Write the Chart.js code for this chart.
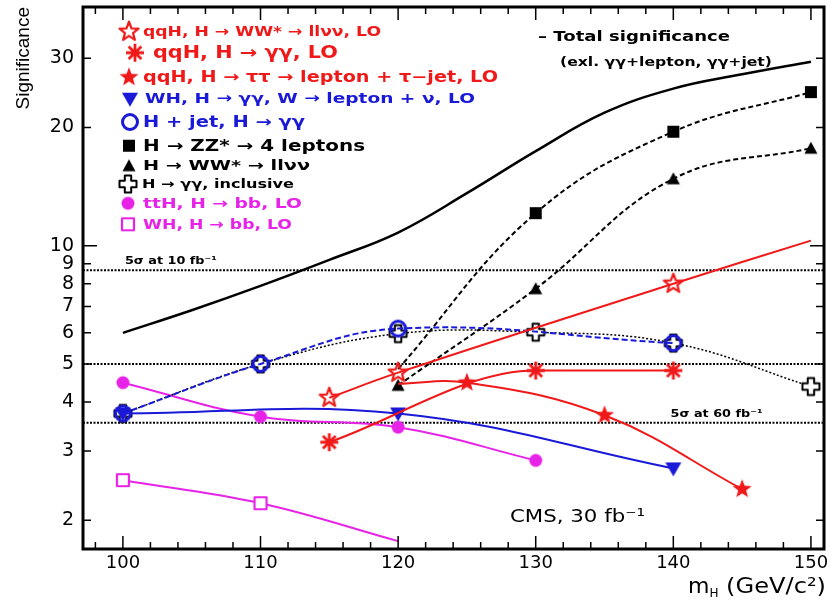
<!DOCTYPE html>
<html>
<head>
<meta charset="utf-8">
<script src="https://cdn.jsdelivr.net/npm/chart.js@4.4.1/dist/chart.umd.min.js"></script>
<style>
  html, body { margin: 0; padding: 0; background: #fff; }
</style>
</head>
<body>
<canvas id="significanceCanvas" width="831" height="602"></canvas>
<script>
// ---- donnees (m_H en GeV/c2, significance) ----
const masseTotal = [100, 105, 110, 115, 120, 125, 130, 135, 140, 145, 150]
const signifTotal = [6.0, 6.85, 7.9, 9.2, 10.8, 13.6, 17.4, 21.8, 25.1, 27.3, 29.4]

const masseZZ = [120, 130, 140, 150]
const signifZZ = [4.85, 12.1, 19.5, 24.6]

const masseWW = [120, 130, 140, 150]
const signifWW = [4.41, 7.77, 14.8, 17.7]

const masseGGincl = [100, 110, 120, 130, 140, 150]
const signifGGincl = [3.74, 5.0, 5.97, 6.02, 5.65, 4.38]

const masseHjet = [100, 110, 120, 140]
const signifHjet = [3.74, 5.0, 6.15, 5.65]

const masseWHgg = [100, 120, 140]
const signifWHgg = [3.74, 3.74, 2.71]

const masseQqhWW = [115, 120, 140, 150]
const signifQqhWW = [4.1, 4.75, 8.0, 10.3]

const masseQqhGG = [115, 130, 140]
const signifQqhGG = [3.16, 4.81, 4.81]

const masseQqhTT = [120, 125, 135, 145]
const signifQqhTT = [4.45, 4.48, 3.70, 2.40]

const masseTTH = [100, 110, 120, 130]
const signifTTH = [4.48, 3.67, 3.45, 2.84]

const masseWHbb = [100, 110, 120]
const signifWHbb = [2.53, 2.21, 1.77]

// seuils 5 sigma (10 fb-1, 30 fb-1, 60 fb-1)
const seuils = [8.66, 5.0, 3.54]

const graduationsX = [100, 110, 120, 130, 140, 150]
const graduationsY = [2, 3, 4, 5, 6, 7, 8, 9, 10, 20, 30]

const libelles = [
    "qqH, H \u2192 WW* \u2192 ll\u03bd\u03bd, LO",
    "qqH, H \u2192 \u03b3\u03b3, LO",
    "qqH, H \u2192 \u03c4\u03c4 \u2192 lepton + \u03c4\u2212jet, LO",
    "WH, H \u2192 \u03b3\u03b3, W \u2192 lepton + \u03bd, LO",
    "H + jet, H \u2192 \u03b3\u03b3",
    "H \u2192 ZZ* \u2192 4 leptons",
    "H \u2192 WW* \u2192 ll\u03bd\u03bd",
    "H \u2192 \u03b3\u03b3, inclusive",
    "ttH, H \u2192 bb, LO",
    "WH, H \u2192 bb, LO"
]

// ---- styles ----
const ROUGE = "rgb(240,25,25)"
const BLEU = "rgb(25,25,215)"
const NOIR = "#000"
const MAGENTA = "rgb(232,35,232)"
const xMin = 97.1, xMax = 150.95
const yMin = 1.69, yMax = 40.5

// petit canvas pour chaque marqueur (facon ROOT)
function marqueur(forme, couleur) {
    const c = document.createElement("canvas")
    const t = 24
    c.width = t; c.height = t
    const g = c.getContext("2d")
    g.translate(t / 2, t / 2)
    g.strokeStyle = couleur
    g.fillStyle = couleur
    g.lineWidth = 2.2
    g.lineJoin = "round"
    if (forme === "etoile" || forme === "etoileVide") {
        g.beginPath()
        for (let i = 0; i < 10; i++) {
            const r = i % 2 ? 4.2 : 10
            const a = -Math.PI / 2 + i * Math.PI / 5
            g.lineTo(r * Math.cos(a), r * Math.sin(a))
        }
        g.closePath()
        if (forme === "etoile") g.fill(); else g.stroke()
    } else if (forme === "asterisque") {
        g.lineWidth = 2.8
        g.beginPath()
        for (let i = 0; i < 4; i++) {
            const a = i * Math.PI / 4
            g.moveTo(-9 * Math.cos(a), -9 * Math.sin(a))
            g.lineTo(9 * Math.cos(a), 9 * Math.sin(a))
        }
        g.stroke()
    } else if (forme === "triangleBas") {
        g.beginPath(); g.moveTo(-8, -6); g.lineTo(8, -6); g.lineTo(0, 8); g.closePath(); g.fill()
    } else if (forme === "triangle") {
        g.beginPath(); g.moveTo(-6.5, 5.5); g.lineTo(6.5, 5.5); g.lineTo(0, -6.5); g.closePath(); g.fill()
    } else if (forme === "cercleVide") {
        g.lineWidth = 3
        g.beginPath(); g.arc(0, 0, 7.5, 0, 2 * Math.PI); g.stroke()
    } else if (forme === "cercle") {
        g.beginPath(); g.arc(0, 0, 6.5, 0, 2 * Math.PI); g.fill()
    } else if (forme === "carre") {
        g.fillRect(-6, -6, 12, 12)
    } else if (forme === "carreVide") {
        g.lineWidth = 2.2
        g.fillStyle = "#fff"
        g.fillRect(-6, -6, 12, 12)
        g.strokeRect(-6, -6, 12, 12)
    } else if (forme === "croixVide") {
        const a = 3.2, b = 8.5
        g.lineWidth = 2
        g.beginPath()
        g.moveTo(-a, -b); g.lineTo(a, -b); g.lineTo(a, -a); g.lineTo(b, -a); g.lineTo(b, a); g.lineTo(a, a)
        g.lineTo(a, b); g.lineTo(-a, b); g.lineTo(-a, a); g.lineTo(-b, a); g.lineTo(-b, -a); g.lineTo(-a, -a)
        g.closePath()
        g.fillStyle = "#fff"
        g.fill(); g.stroke()
    }
    return c
}

const mkQqhWW = marqueur("etoileVide", ROUGE)
const mkQqhGG = marqueur("asterisque", ROUGE)
const mkQqhTT = marqueur("etoile", ROUGE)
const mkWHgg = marqueur("triangleBas", BLEU)
const mkHjet = marqueur("cercleVide", BLEU)
const mkZZ = marqueur("carre", NOIR)
const mkWW = marqueur("triangle", NOIR)
const mkGG = marqueur("croixVide", NOIR)
const mkTTH = marqueur("cercle", MAGENTA)
const mkWHbb = marqueur("carreVide", MAGENTA)

function points(xs, ys) {
    return xs.map((x, i) => ({ x: x, y: ys[i] }))
}

function serie(label, xs, ys, couleur, mk, extra) {
    return Object.assign({
        label: label,
        data: points(xs, ys),
        borderColor: couleur,
        backgroundColor: couleur,
        borderWidth: 2,
        pointStyle: mk,
        pointRadius: 5,
        tension: 0.4,
        fill: false
    }, extra || {})
}

const datasets = [
    serie(libelles[0], masseQqhWW, signifQqhWW, ROUGE, mkQqhWW, { pointRadius: [5, 5, 5, 0] }),
    serie(libelles[1], masseQqhGG, signifQqhGG, ROUGE, mkQqhGG, { cubicInterpolationMode: "monotone" }),
    serie(libelles[2], masseQqhTT, signifQqhTT, ROUGE, mkQqhTT, { pointRadius: [0, 5, 5, 5] }),
    serie(libelles[4], masseHjet, signifHjet, BLEU, mkHjet, { borderDash: [6, 3] }),
    serie(libelles[3], masseWHgg, signifWHgg, BLEU, mkWHgg),
    serie(libelles[7], masseGGincl, signifGGincl, NOIR, mkGG, { borderDash: [2, 2], borderWidth: 1.5 }),
    serie(libelles[5], masseZZ, signifZZ, NOIR, mkZZ, { borderDash: [5, 3], pointRadius: [0, 5, 5, 5] }),
    serie(libelles[6], masseWW, signifWW, NOIR, mkWW, { borderDash: [5, 3] }),
    serie(libelles[8], masseTTH, signifTTH, MAGENTA, mkTTH),
    serie(libelles[9], masseWHbb, signifWHbb, MAGENTA, mkWHbb, { pointRadius: [5, 5, 0] }),
    serie("Total significance", masseTotal, signifTotal, NOIR, "circle", { pointRadius: 0, borderWidth: 2.5 })
]
seuils.forEach(s => {
    datasets.push({
        label: "5 sigma",
        data: [{ x: xMin, y: s }, { x: xMax, y: s }],
        borderColor: NOIR,
        borderWidth: 2,
        borderDash: [2, 1.5],
        pointRadius: 0,
        tension: 0
    })
})

const marqueursLegende = [mkQqhWW, mkQqhGG, mkQqhTT, mkWHgg, mkHjet, mkZZ, mkWW, mkGG, mkTTH, mkWHbb]
const couleursLegende = [ROUGE, ROUGE, ROUGE, BLEU, BLEU, NOIR, NOIR, NOIR, MAGENTA, MAGENTA]
// mise en page de la legende (pixels)
const legY = [31.7, 52.7, 77.3, 98.7, 122, 145.7, 165.7, 184, 203.3, 224.3]
const legXmk = [129, 135, 129, 130, 130, 129, 129, 128, 128, 128]
const legXtxt = [143, 153, 143, 145, 143, 143, 143, 142, 143, 143]
const legLarg = [238, 185, 355, 330, 162, 222, 167, 152, 159, 149]
const legTaille = [14, 17, 15, 14.5, 15, 15, 14, 12.5, 14, 14]

// texte etire a une largeur donnee
function texteLargeur(ctx, txt, x, y, largeur) {
    const w = ctx.measureText(txt).width
    ctx.save()
    ctx.translate(x, y)
    if (largeur) ctx.scale(largeur / w, 1)
    ctx.fillText(txt, 0, 0)
    ctx.restore()
}

const habillage = {
    id: "habillage",
    afterDatasetsDraw(chart) {
        const ctx = chart.ctx
        const a = chart.chartArea
        const sx = chart.scales.x, sy = chart.scales.y
        ctx.save()

        // graduations interieures facon ROOT
        ctx.strokeStyle = NOIR
        ctx.lineWidth = 1.5
        ctx.beginPath()
        for (let m = 98; m <= 150; m += 2) {
            const px = sx.getPixelForValue(m)
            const l = m % 10 === 0 ? 13 : 7
            ctx.moveTo(px, a.bottom); ctx.lineTo(px, a.bottom - l)
            ctx.moveTo(px, a.top); ctx.lineTo(px, a.top + l)
        }
        graduationsY.forEach(v => {
            const py = sy.getPixelForValue(v)
            const l = v === 10 ? 14 : 8
            ctx.moveTo(a.left, py); ctx.lineTo(a.left + l, py)
            ctx.moveTo(a.right, py); ctx.lineTo(a.right - l, py)
        })
        ctx.stroke()

        // cadre
        ctx.lineWidth = 3
        ctx.strokeRect(a.left, a.top, a.right - a.left, a.bottom - a.top)

        // legende
        ctx.textBaseline = "middle"
        ctx.textAlign = "left"
        libelles.forEach((t, i) => {
            const mk = marqueursLegende[i]
            ctx.drawImage(mk, legXmk[i] - mk.width / 2, legY[i] - mk.height / 2)
            ctx.fillStyle = couleursLegende[i]
            ctx.font = "bold " + legTaille[i] + "px 'DejaVu Sans'"
            texteLargeur(ctx, t, legXtxt[i], legY[i] + 1, legLarg[i])
        })

        ctx.fillStyle = NOIR
        ctx.font = "bold 14px 'DejaVu Sans'"
        texteLargeur(ctx, "\u2013 Total significance", 538, 37, 192)
        ctx.font = "bold 12.5px 'DejaVu Sans'"
        texteLargeur(ctx, "(exl. \u03b3\u03b3+lepton, \u03b3\u03b3+jet)", 560, 63, 212)

        // etiquettes des seuils
        ctx.textBaseline = "alphabetic"
        ctx.font = "bold 11px 'DejaVu Sans'"
        texteLargeur(ctx, "5\u03c3 at 10 fb\u207b\u00b9", sx.getPixelForValue(100) + 2, sy.getPixelForValue(seuils[0]) - 6, 92)
        texteLargeur(ctx, "5\u03c3 at 60 fb\u207b\u00b9", sx.getPixelForValue(139.8), sy.getPixelForValue(seuils[2]) - 6, 92)

        ctx.font = "18px 'DejaVu Sans'"
        texteLargeur(ctx, "CMS, 30 fb\u207b\u00b9", 510, 522, 135)

        // titre de l'axe x avec indice
        const xt = 688, yt = 593
        ctx.font = "22px 'DejaVu Sans'"
        ctx.fillText("m", xt, yt)
        const wm = ctx.measureText("m").width
        ctx.font = "12px 'DejaVu Sans'"
        ctx.fillText("H", xt + wm, yt + 4)
        const wh = ctx.measureText("H").width
        ctx.font = "22px 'DejaVu Sans'"
        const xs = xt + wm + wh
        texteLargeur(ctx, " (GeV/c\u00b2)", xs, yt, 826 - xs)
        ctx.restore()
    }
}

const barCanvas = document.getElementById("significanceCanvas")
const chart = new Chart(barCanvas, {
    type: "line",
    data: { datasets: datasets },
    plugins: [habillage],
    options: {
        responsive: false,
        animation: false,
        layout: { padding: { top: 6, right: 6, left: 0, bottom: 0 } },
        plugins: {
            legend: { display: false },
            tooltip: { enabled: false }
        },
        scales: {
            x: {
                type: "linear",
                min: xMin,
                max: xMax,
                afterBuildTicks: s => { s.ticks = graduationsX.map(v => ({ value: v })) },
                afterFit: s => { s.height = 53; s.paddingLeft = 0; s.paddingRight = 0 },
                grid: { display: false, drawTicks: false },
                border: { display: false },
                ticks: {
                    color: NOIR,
                    padding: 4,
                    maxRotation: 0,
                    font: { family: "DejaVu Sans", size: 18 }
                }
            },
            y: {
                type: "logarithmic",
                min: yMin,
                max: yMax,
                afterBuildTicks: s => { s.ticks = graduationsY.map(v => ({ value: v })) },
                afterFit: s => { s.width = 83; s.paddingTop = 0; s.paddingBottom = 0 },
                grid: { display: false, drawTicks: false },
                border: { display: false },
                ticks: {
                    color: NOIR,
                    padding: 9,
                    autoSkip: false,
                    callback: v => String(v),
                    font: { family: "DejaVu Sans", size: 19 }
                },
                title: {
                    display: true,
                    text: "Significance",
                    align: "end",
                    color: NOIR,
                    padding: { top: 12, bottom: 0 },
                    font: { family: "Liberation Sans", size: 19 }
                }
            }
        }
    }
})
</script>
</body>
</html>
